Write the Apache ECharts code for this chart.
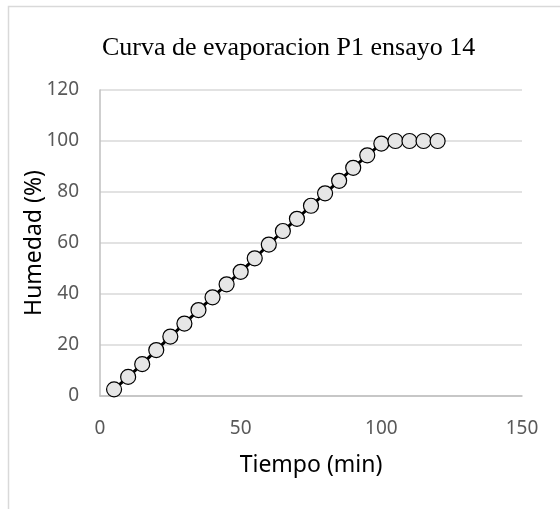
<!DOCTYPE html>
<html><head><meta charset="utf-8">
<script src="https://cdn.jsdelivr.net/npm/echarts@6/dist/echarts.min.js"></script>
<style>html,body{margin:0;padding:0;background:#fff}#c{width:560px;height:509px}</style>
</head><body><div id="c"></div>
<script>
var titleText = 'Curva de evaporacion P1 ensayo 14';
var xName = 'Tiempo (min)';
var yName = 'Humedad (%)';
var tiempo = [5,10,15,20,25,30,35,40,45,50,55,60,65,70,75,80,85,90,95,100,105,110,115,120];
var humedad = [2.6,7.5,12.5,18,23.3,28.4,33.7,38.7,43.8,48.7,54,59.4,64.7,69.5,74.6,79.5,84.4,89.5,94.4,99,100,100,100,100];
var xTicks = {min:0, max:150, interval:50};
var yTicks = {min:0, max:120, interval:20};

var chart = echarts.init(document.getElementById('c'), null, {renderer:'canvas'});
var pts = tiempo.map(function(t,i){return [t, humedad[i]];});
chart.setOption({
  animation:false,
  backgroundColor:'#fff',
  title:{text:titleText, left:97, top:30,
    textStyle:{fontFamily:'Liberation Serif', fontSize:26, fontWeight:'normal', color:'#000'}},
  graphic:[{type:'rect', shape:{x:8.5,y:6.5,width:600,height:600}, style:{fill:'none', stroke:'#d9d9d9', lineWidth:1.5}, silent:true}],
  grid:{left:100, right:38, top:90, bottom:113, containLabel:false},
  xAxis:{type:'value', min:xTicks.min, max:xTicks.max, interval:xTicks.interval,
    name:xName, nameLocation:'middle', nameGap:58, nameMoveOverlap:false,
    nameTextStyle:{fontFamily:'Noto Sans', fontSize:23, color:'#000'},
    axisLine:{show:true, lineStyle:{color:'#bfbfbf', width:1.5}},
    axisTick:{show:false},
    axisLabel:{fontFamily:'Noto Sans', fontSize:19, color:'#595959', margin:23},
    splitLine:{show:false}},
  yAxis:{type:'value', min:yTicks.min, max:yTicks.max, interval:yTicks.interval,
    name:yName, nameLocation:'middle', nameGap:54, nameMoveOverlap:false,
    nameTextStyle:{fontFamily:'Noto Sans', fontSize:23, color:'#000'},
    axisLine:{show:true, lineStyle:{color:'#bfbfbf', width:1.5}},
    axisTick:{show:false},
    axisLabel:{fontFamily:'Noto Sans', fontSize:19, color:'#595959', margin:21},
    splitLine:{show:true, lineStyle:{color:'#d9d9d9', width:1.5}}},
  series:[{type:'line', data:pts, symbol:'circle', symbolSize:15,
    lineStyle:{color:'#000', width:3},
    itemStyle:{color:'#e6e6e6', borderColor:'#000', borderWidth:1.2}}]
});
</script></body></html>
